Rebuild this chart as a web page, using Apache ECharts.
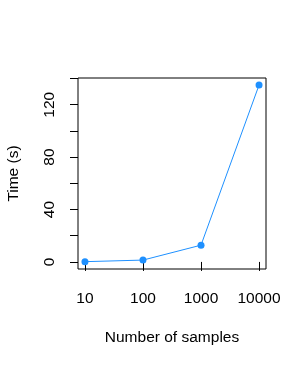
<!DOCTYPE html>
<html><head><meta charset="utf-8">
<script src="https://cdn.jsdelivr.net/npm/echarts@6/dist/echarts.min.js"></script>
<style>html,body{margin:0;padding:0;background:#fff}#c{width:307px;height:367px}</style>
</head><body><div id="c"></div>
<script>
const samples = [10, 100, 1000, 10000];
const times = [0.2, 1.4, 12.8, 135];
const xTicks = [10, 100, 1000, 10000];
const yTicks = [0, 20, 40, 60, 80, 100, 120, 140];
const yLabels = [0, 40, 80, 120];
const xTitle = 'Number of samples';
const yTitle = 'Time (s)';

const font = 'Liberation Sans, Arial, sans-serif';
const chart = echarts.init(document.getElementById('c'), null, {renderer: 'canvas'});
chart.setOption({
  animation: false,
  grid: {left: 78, top: 78, right: 41, bottom: 98, show: true, borderColor: '#000', borderWidth: 1, backgroundColor: 'transparent', outerBoundsMode: 'none', containLabel: false},
  xAxis: {
    type: 'log', logBase: 10,
    min: Math.pow(10, 0.88), max: Math.pow(10, 4.12),
    name: xTitle, nameLocation: 'middle', nameGap: 61,
    nameTextStyle: {color: '#000', fontSize: 15.5, fontFamily: font},
    axisLine: {show: false},
    axisTick: {show: true, length: 9, lineStyle: {color: '#000'}, customValues: xTicks},
    axisLabel: {color: '#000', fontSize: 15.5, fontFamily: font, margin: 22, customValues: xTicks, formatter: v => String(Math.round(v))},
    splitLine: {show: false}, minorTick: {show: false}
  },
  yAxis: {
    type: 'value', min: -5.4, max: 140.4,
    name: yTitle, nameLocation: 'middle', nameGap: 56.5,
    nameTextStyle: {color: '#000', fontSize: 15.5, fontFamily: font},
    axisLine: {show: false},
    axisTick: {show: true, length: 8, lineStyle: {color: '#000'}, customValues: yTicks},
    axisLabel: {color: '#000', fontSize: 15.5, fontFamily: font, margin: 20, rotate: 90, customValues: yLabels},
    splitLine: {show: false}
  },
  series: [{
    type: 'line',
    data: samples.map((s, i) => [s, times[i]]),
    symbol: 'circle', symbolSize: 7,
    lineStyle: {color: '#1E90FF', width: 1},
    itemStyle: {color: '#1E90FF'}
  }]
});
</script></body></html>
